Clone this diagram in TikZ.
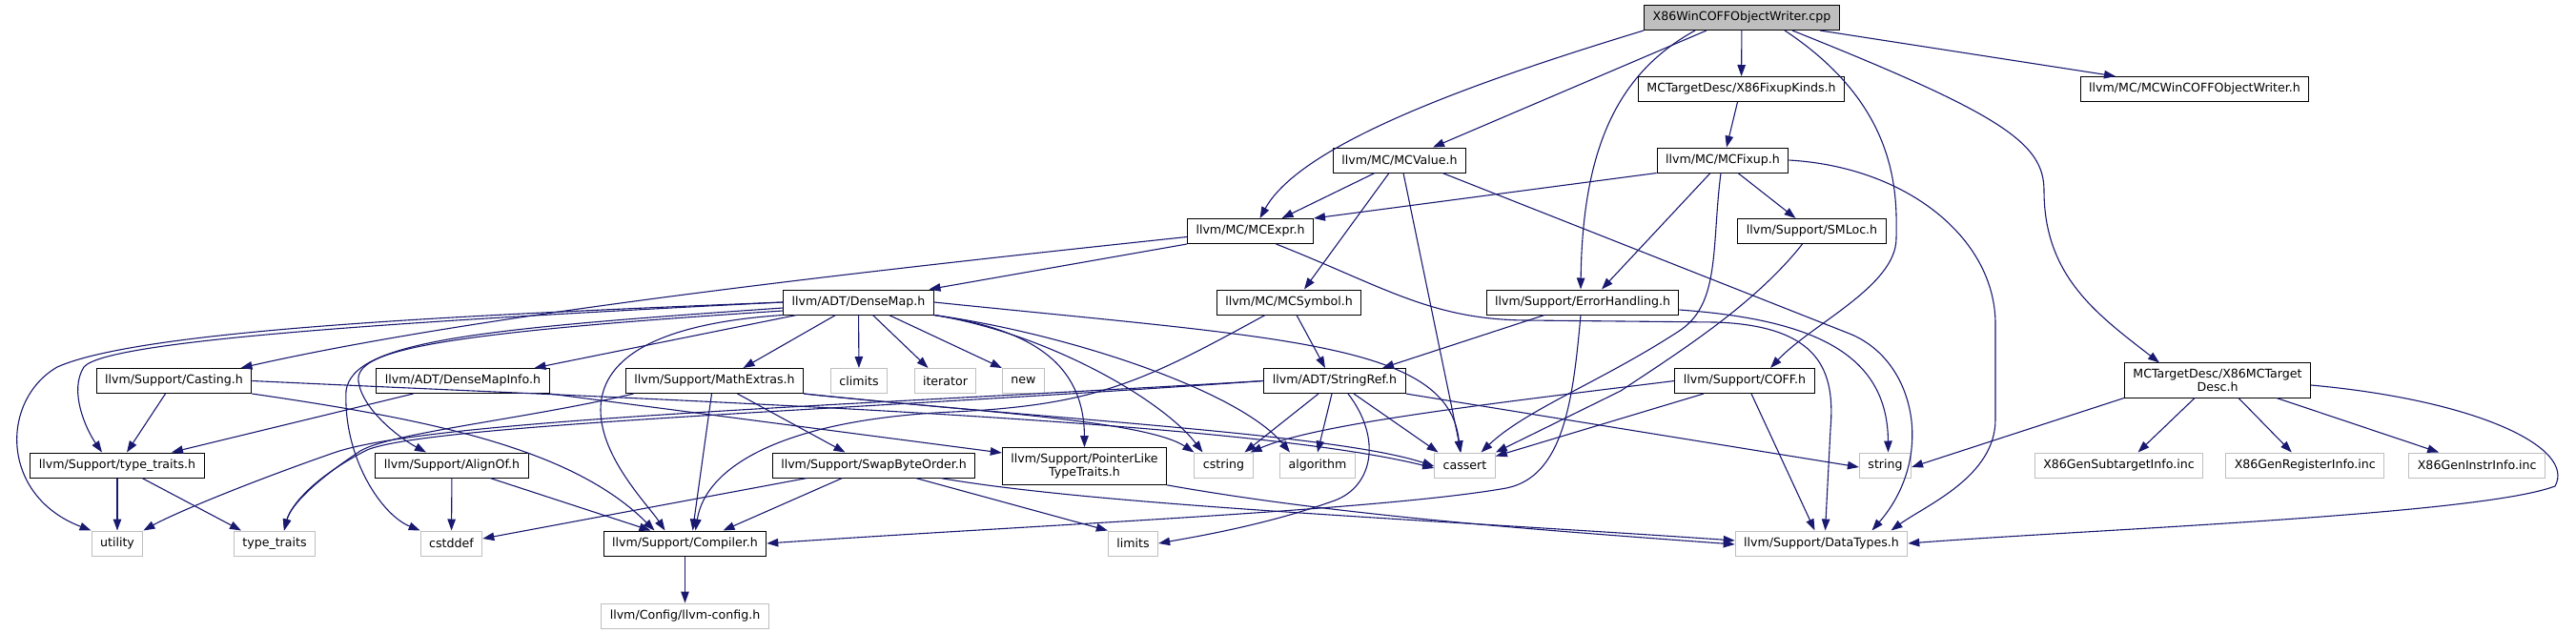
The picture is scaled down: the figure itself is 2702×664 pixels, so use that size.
\documentclass[tikz,border=0pt]{standalone}
\usepackage{fontspec}
\setmainfont{DejaVu Sans}
\usepackage{xcolor}
\usepackage{tikz}
\usetikzlibrary{positioning,arrows.meta}

\definecolor{edgeblue}{HTML}{191970}
\definecolor{nodegray}{HTML}{BFBFBF}

\begin{document}
\begin{tikzpicture}[
    x=1pt, y=-1pt,
    font=\fontsize{12.6}{14.5}\selectfont,
    hdr/.style={draw=black, line width=1pt, fill=white, minimum height=26pt,
                inner xsep=9pt, inner ysep=6pt, align=center},
    sys/.style={hdr, draw=nodegray},
    dep/.style={-{Triangle[length=12pt,width=8.5pt]}, edgeblue, line width=1.1pt},
  ]
  \useasboundingbox (0,0) rectangle (2702,664);

  % Source file
  \node[hdr, fill=nodegray] (main) at (1827,18.5) {X86WinCOFFObjectWriter.cpp};
  % Direct includes
  \node[hdr] (fixk)    at (1826.5,93.5) {MCTargetDesc/X86FixupKinds.h};
  \node[hdr] (wincoff) at (2302,93.5)   {llvm/MC/MCWinCOFFObjectWriter.h};
  \node[hdr] (mcvalue) at (1468,168)    {llvm/MC/MCValue.h};
  \node[hdr] (mcfixup) at (1807,168)    {llvm/MC/MCFixup.h};
  \node[hdr] (mcexpr)  at (1311.5,242.5) {llvm/MC/MCExpr.h};
  \node[hdr] (smloc)   at (1900.5,242.5) {llvm/Support/SMLoc.h};
  \node[hdr] (densemap) at (900.5,317)  {llvm/ADT/DenseMap.h};
  \node[hdr] (mcsymbol) at (1352,317)   {llvm/MC/MCSymbol.h};
  \node[hdr] (errh)     at (1660,317)   {llvm/Support/ErrorHandling.h};
  % Support headers
  \node[hdr] (casting)  at (182.5,399.5) {llvm/Support/Casting.h};
  \node[hdr] (dmapinfo) at (485.5,399.5) {llvm/ADT/DenseMapInfo.h};
  \node[hdr] (mathx)    at (749.5,399.5) {llvm/Support/MathExtras.h};
  \node[sys] (climits)  at (901,399.5)   {climits};
  \node[sys] (iterator) at (991.5,399.5) {iterator};
  \node[sys] (stdnew)   at (1073.5,399.5) {new};
  \node[hdr] (strref)   at (1400,399.5)  {llvm/ADT/StringRef.h};
  \node[hdr] (coff)     at (1830,399.5)  {llvm/Support/COFF.h};
  \node[hdr] (x86mc)    at (2326,399)    {MCTargetDesc/X86MCTarget\\Desc.h};
  \node[hdr] (typetr)   at (123,488)     {llvm/Support/type\_traits.h};
  \node[hdr] (alignof)  at (474,488)     {llvm/Support/AlignOf.h};
  \node[hdr] (swapbo)   at (916.5,488)   {llvm/Support/SwapByteOrder.h};
  \node[hdr] (ptrlike)  at (1137.5,489)  {llvm/Support/PointerLike\\TypeTraits.h};
  \node[sys] (cstring)  at (1283.5,488)  {cstring};
  \node[sys] (algorithm) at (1382,488)   {algorithm};
  \node[sys] (cassert)  at (1536.5,488)  {cassert};
  \node[sys] (string)   at (1977.5,488)  {string};
  \node[sys] (subtgt)   at (2222.5,488)  {X86GenSubtargetInfo.inc};
  \node[sys, right=23pt of subtgt]  (reginfo)   {X86GenRegisterInfo.inc};
  \node[sys, right=25pt of reginfo] (instrinfo) {X86GenInstrInfo.inc};
  % Leaves
  \node[sys] (utility)   at (123,570)    {utility};
  \node[sys] (stdtt)     at (288,570)    {type\_traits};
  \node[sys] (cstddef)   at (473.5,570)  {cstddef};
  \node[hdr] (compiler)  at (718.5,570)  {llvm/Support/Compiler.h};
  \node[sys] (limits)    at (1188.5,570) {limits};
  \node[sys] (datatypes) at (1910.5,570) {llvm/Support/DataTypes.h};
  \node[sys, below=49pt of compiler] (llvmcfg) {llvm/Config/llvm-config.h};

  % X86WinCOFFObjectWriter.cpp
  \draw[dep] (main.south west) .. controls (1550,85) and (1365,150) .. ([xshift=10pt]mcexpr.north);
  \draw[dep] ([xshift=-37pt]main.south) -- ([xshift=35pt]mcvalue.north);
  \draw[dep] ([xshift=-49pt]main.south) .. controls (1700,75) and (1660,150) .. ([xshift=-2pt]errh.north);
  \draw[dep] (main) -- (fixk);
  \draw[dep] ([xshift=45pt]main.south) .. controls (1990,110) and (1990,200) .. (1989,250)
        .. controls (1989,300) and (1900,340) .. ([xshift=27pt]coff.north);
  \draw[dep] ([xshift=53pt]main.south) .. controls (2100,120) and (2144,150) .. (2144,200)
        .. controls (2144,290) and (2200,330) .. ([xshift=-61pt]x86mc.north);
  \draw[dep] ([xshift=82pt]main.south) -- ([xshift=-83pt]wincoff.north);

  % X86FixupKinds.h, MCFixup.h
  \draw[dep] ([xshift=-4pt]fixk.south) -- ([xshift=4pt]mcfixup.north);
  \draw[dep] (mcfixup.south west) -- (mcexpr.north east);
  \draw[dep] ([xshift=-13pt]mcfixup.south) -- ([xshift=20pt]errh.north);
  \draw[dep] ([xshift=16pt]mcfixup.south) -- ([xshift=-17pt]smloc.north);
  \draw[dep] ([xshift=-2pt]mcfixup.south) .. controls (1795,260) and (1805,320) .. (1760,348)
        .. controls (1680,400) and (1600,430) .. ([xshift=17pt]cassert.north);
  \draw[dep] (mcfixup.east) .. controls (2000,175) and (2093,250) .. (2093,340) -- (2093,440)
        .. controls (2093,500) and (2020,530) .. ([xshift=73pt]datatypes.north);

  % MCValue.h
  \draw[dep] ([xshift=-26pt]mcvalue.south) -- ([xshift=33pt]mcexpr.north);
  \draw[dep] ([xshift=-11pt]mcvalue.south) -- ([xshift=16pt]mcsymbol.north);
  \draw[dep] ([xshift=4pt]mcvalue.south) -- ([xshift=-4pt]cassert.north);
  \draw[dep] ([xshift=45pt]mcvalue.south) -- (1940,350) .. controls (2010,378) and (2030,480) .. ([xshift=53pt]datatypes.north);

  % MCExpr.h
  \draw[dep] (mcexpr.south west) -- ([xshift=74pt]densemap.north);
  \draw[dep] ([yshift=-6pt]mcexpr.west) .. controls (900,285) and (500,330) .. ([xshift=70pt]casting.north);
  \draw[dep] ([xshift=27pt]mcexpr.south) .. controls (1450,300) and (1500,335) .. (1600,336) -- (1800,338)
        .. controls (1910,342) and (1925,390) .. (1920,450) -- ([xshift=4pt]datatypes.north);

  % DenseMap.h
  \draw[dep] (densemap.west) .. controls (500,330) and (150,345) .. (60,385)
        .. controls (0,420) and (0,520) .. (utility.north west);
  \draw[dep] (densemap.west) .. controls (400,338) and (110,358) .. (88,385)
        .. controls (72,410) and (90,450) .. ([xshift=-16pt]typetr.north);
  \draw[dep] ([yshift=-6pt]densemap.west) .. controls (500,345) and (370,358) .. (363,410)
        .. controls (360,480) and (400,540) .. (cstddef.north west);
  \draw[dep] ([yshift=-9pt]densemap.west) .. controls (450,350) and (372,368) .. (376,400)
        .. controls (380,430) and (420,460) .. ([xshift=-27pt]alignof.north);
  \draw[dep] (densemap.south west) .. controls (680,340) and (630,380) .. (630,430)
        .. controls (630,480) and (680,530) .. ([xshift=-21pt]compiler.north);
  \draw[dep] ([xshift=-65pt]densemap.south) -- ([xshift=75pt]dmapinfo.north);
  \draw[dep] ([xshift=-24pt]densemap.south) -- ([xshift=30pt]mathx.north);
  \draw[dep] (densemap) -- (climits);
  \draw[dep] ([xshift=15pt]densemap.south) -- ([xshift=-18pt]iterator.north);
  \draw[dep] ([xshift=32pt]densemap.south) -- (stdnew.north west);
  \draw[dep] (densemap.south east) .. controls (1080,345) and (1137,380) .. (ptrlike.north);
  \draw[dep] (densemap.south east) .. controls (1100,350) and (1220,420) .. ([xshift=-22pt]cstring.north);
  \draw[dep] (densemap.south east) .. controls (1120,350) and (1300,410) .. ([xshift=-29pt]algorithm.north);
  \draw[dep] (densemap.east) .. controls (1350,355) and (1520,360) .. ([xshift=-5pt]cassert.north);

  % Casting.h, DenseMapInfo.h, MathExtras.h
  \draw[dep] ([xshift=-9pt]casting.south) -- ([xshift=10pt]typetr.north);
  \draw[dep] (casting.south east) .. controls (450,440) and (600,470) .. ([xshift=-32pt]compiler.north);
  \draw[dep] (casting.east) .. controls (700,420) and (1300,440) .. ([yshift=-3pt]cassert.west);
  \draw[dep] ([xshift=-52pt]dmapinfo.south) -- ([xshift=57pt]typetr.north);
  \draw[dep] (dmapinfo.south east) -- ([yshift=14pt]ptrlike.west);
  \draw[dep] ([xshift=24pt]mathx.south) -- ([xshift=-30pt]swapbo.north);
  \draw[dep] ([xshift=-3pt]mathx.south) -- ([xshift=8pt]compiler.north);
  \draw[dep] ([xshift=-85pt]mathx.south) .. controls (550,440) and (400,455) .. (375,475)
        .. controls (330,505) and (305,530) .. ([xshift=10pt]stdtt.north);
  \draw[dep] (mathx.south east) .. controls (1000,430) and (1200,440) .. (cstring.north west);
  \draw[dep] (mathx.south east) .. controls (1100,440) and (1400,455) .. ([yshift=-1pt]cassert.west);

  % SwapByteOrder.h, AlignOf.h, PointerLikeTypeTraits.h, type_traits.h, Compiler.h
  \draw[dep] ([xshift=-70pt]swapbo.south) -- ([yshift=5pt]cstddef.east);
  \draw[dep] ([xshift=-33pt]swapbo.south) -- ([xshift=40pt]compiler.north);
  \draw[dep] ([xshift=44pt]swapbo.south) -- (limits.north west);
  \draw[dep] ([xshift=70pt]swapbo.south) .. controls (1150,530) and (1500,545) .. ([yshift=3pt]datatypes.west);
  \draw[dep] (ptrlike.south east) .. controls (1400,540) and (1600,555) .. ([yshift=-1pt]datatypes.west);
  \draw[dep] (alignof) -- (cstddef);
  \draw[dep] ([xshift=40pt]alignof.south) -- ([xshift=-36pt]compiler.north);
  \draw[dep] (typetr) -- (utility);
  \draw[dep] ([xshift=26pt]typetr.south) -- ([xshift=-35pt]stdtt.north);
  \draw[dep] (compiler) -- (llvmcfg);

  % MCSymbol.h, ErrorHandling.h
  \draw[dep] ([xshift=8pt]mcsymbol.south) -- ([xshift=-10pt]strref.north);
  \draw[dep] ([xshift=-25pt]mcsymbol.south) .. controls (1200,400) and (1150,425) .. (1000,432)
        .. controls (820,440) and (740,490) .. ([xshift=11pt]compiler.north);
  \draw[dep] ([xshift=-40pt]errh.south) -- ([xshift=50pt]strref.north);
  \draw[dep] ([xshift=-2pt]errh.south) .. controls (1650,420) and (1640,500) .. (1580,512)
        .. controls (1450,535) and (1100,550) .. (compiler.east);
  \draw[dep] ([yshift=-8pt]errh.east) .. controls (1900,335) and (1980,370) .. ([xshift=3pt]string.north);

  % StringRef.h
  \draw[dep] ([xshift=-17pt]strref.south) -- ([xshift=22pt]cstring.north);
  \draw[dep] ([xshift=-3pt]strref.south) -- (algorithm.north);
  \draw[dep] ([xshift=20pt]strref.south) -- ([xshift=-28pt]cassert.north);
  \draw[dep] ([xshift=14pt]strref.south) .. controls (1450,460) and (1440,510) .. (1400,525)
        .. controls (1330,550) and (1260,562) .. (limits.east);
  \draw[dep] (strref.south east) -- ([yshift=-2pt]string.west);
  \draw[dep] (strref.west) .. controls (900,425) and (450,440) .. (350,475)
        .. controls (250,510) and (180,540) .. (utility.north east);
  \draw[dep] (strref.west) .. controls (900,430) and (450,445) .. (385,472)
        .. controls (330,500) and (305,530) .. ([xshift=10pt]stdtt.north);

  % COFF.h, SMLoc.h
  \draw[dep] (coff.west) .. controls (1550,425) and (1380,445) .. ([xshift=28pt]cstring.north);
  \draw[dep] ([xshift=-43pt]coff.south) -- ([yshift=-4pt]cassert.north east);
  \draw[dep] ([xshift=7pt]coff.south) -- ([xshift=-7pt]datatypes.north);
  \draw[dep] ([xshift=-10pt]smloc.south) .. controls (1840,320) and (1760,370) .. (1700,410) -- (cassert.north east);

  % X86MCTargetDesc.h
  \draw[dep] (x86mc.south west) -- ([yshift=-2pt]string.east);
  \draw[dep] ([xshift=-24pt]x86mc.south) -- ([xshift=20pt]subtgt.north);
  \draw[dep] ([xshift=22pt]x86mc.south) -- ([xshift=-14pt]reginfo.north);
  \draw[dep] ([xshift=62pt]x86mc.south) -- ([xshift=-40pt]instrinfo.north);
  \draw[dep] ([yshift=-5pt]x86mc.east) .. controls (2600,420) and (2702,470) .. (2680,510)
        .. controls (2600,540) and (2200,555) .. (datatypes.east);
\end{tikzpicture}
\end{document}
